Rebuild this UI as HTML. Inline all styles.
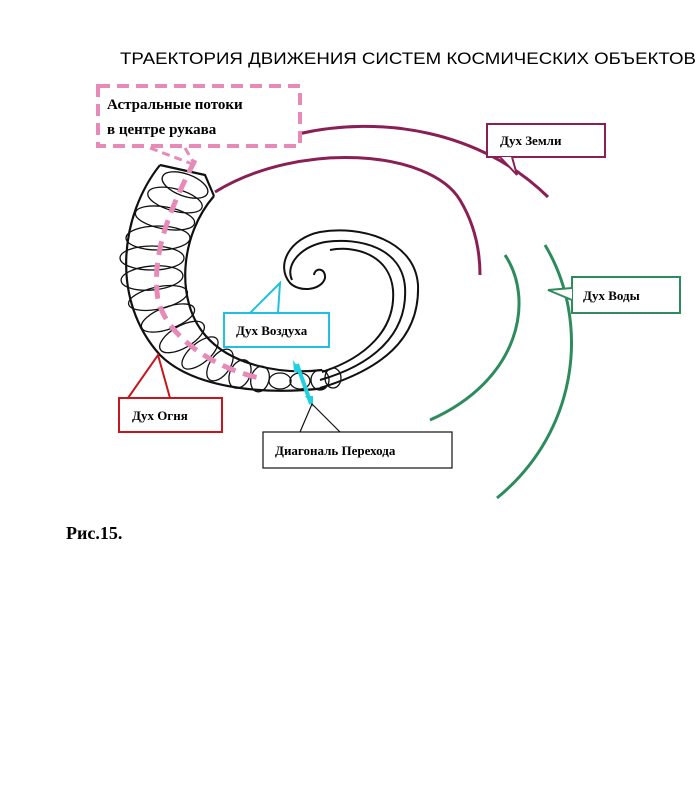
<!DOCTYPE html>
<html><head><meta charset="utf-8"><style>
body{margin:0;background:#fff;width:698px;height:806px;overflow:hidden}
svg{display:block}
.t{font-family:"Liberation Serif","Noto Serif CJK SC",serif;font-weight:bold}
</style></head><body>
<svg width="698" height="806" viewBox="0 0 698 806" xmlns="http://www.w3.org/2000/svg">
<text x="120" y="64" font-family="Liberation Sans, sans-serif" font-size="17" textLength="576" lengthAdjust="spacingAndGlyphs">ТРАЕКТОРИЯ ДВИЖЕНИЯ СИСТЕМ КОСМИЧЕСКИХ ОБЪЕКТОВ</text>

<!-- earth arcs -->
<g fill="none" stroke="#8a1f55" stroke-width="3">
<path d="M298 134 C380 115 480 130 548 197"/>
<path d="M215 192 C300 140 430 150 460 200 C475 225 480 250 480 275"/>
</g>
<!-- water arcs -->
<g fill="none" stroke="#2e8b5e" stroke-width="3">
<path d="M505 255 C535 300 520 380 430 420"/>
<path d="M545 245 C590 320 580 430 497 498"/>
</g>

<!-- inner spiral lines -->
<g fill="none" stroke="#111" stroke-width="2">
<path d="M320 388 C380 370 420 340 418 285 C415 240 360 225 320 232 C290 238 275 265 290 283 C300 293 322 290 325 278 C326 268 315 267 314 275"/>
<path d="M320 380 C372 365 408 335 405 287 C402 248 360 237 325 242 C300 247 285 265 292 280"/>
<path d="M322 372 C365 358 396 330 393 290 C390 255 355 245 330 250"/>
</g>

<!-- tube -->
<g fill="none" stroke="#111" stroke-width="2.2">
<path d="M160 165 C120 215 110 300 160 355 C195 390 270 395 325 388"/>
<path d="M214 196 C180 235 175 300 205 335 C230 365 280 375 322 370"/>
<path d="M160 165 L205 175 L214 196"/>
</g>
<g fill="none" stroke="#111" stroke-width="1.3">
<ellipse cx="185" cy="185" rx="24" ry="11" transform="rotate(20 185 185)"/>
<ellipse cx="175" cy="200" rx="28" ry="11" transform="rotate(15 175 200)"/>
<ellipse cx="165" cy="218" rx="30" ry="11" transform="rotate(10 165 218)"/>
<ellipse cx="158" cy="238" rx="32" ry="12"/>
<ellipse cx="152" cy="258" rx="32" ry="12"/>
<ellipse cx="152" cy="278" rx="31" ry="12" transform="rotate(-5 152 278)"/>
<ellipse cx="158" cy="298" rx="30" ry="11" transform="rotate(-12 158 298)"/>
<ellipse cx="168" cy="318" rx="28" ry="11" transform="rotate(-20 168 318)"/>
<ellipse cx="182" cy="337" rx="25" ry="11" transform="rotate(-30 182 337)"/>
<ellipse cx="200" cy="353" rx="22" ry="10" transform="rotate(-40 200 353)"/>
<ellipse cx="220" cy="365" rx="18" ry="10" transform="rotate(-55 220 365)"/>
<ellipse cx="240" cy="374" rx="15" ry="10" transform="rotate(-65 240 374)"/>
<ellipse cx="260" cy="379" rx="13" ry="9" transform="rotate(-75 260 379)"/>
<ellipse cx="280" cy="381" rx="11" ry="8"/>
<ellipse cx="300" cy="381" rx="10" ry="8"/>
<ellipse cx="320" cy="380" rx="9" ry="10"/>
<ellipse cx="333" cy="378" rx="8" ry="10"/>
</g>
<!-- astral dashed line -->
<path d="M195 160 C175 200 150 250 158 300 C168 340 220 370 260 378" fill="none" stroke="#e88ab8" stroke-width="5" stroke-dasharray="14 8"/>

<!-- astral box -->
<rect x="98" y="86" width="202" height="60" fill="#fff" stroke="#e88ab8" stroke-width="4" stroke-dasharray="12 7"/>
<path d="M150 148 L195 165 M185 148 L195 165" stroke="#e88ab8" stroke-width="3" stroke-dasharray="8 5" fill="none"/>
<text class="t" x="107" y="109" font-size="15">Астральные потоки</text>
<text class="t" x="107" y="134" font-size="15">в центре рукава</text>

<!-- earth box -->
<rect x="487" y="124" width="118" height="33" fill="#fff" stroke="#8a1f55" stroke-width="2"/>
<path d="M500 157 L517 175 L512 157" fill="#fff" stroke="#8a1f55" stroke-width="2"/>
<text class="t" x="500" y="145" font-size="13">Дух Земли</text>

<!-- water box -->
<rect x="572" y="277" width="108" height="36" fill="#fff" stroke="#2e8b5e" stroke-width="2"/>
<path d="M572 288 L548 290 L572 300" fill="#fff" stroke="#2e8b5e" stroke-width="2"/>
<text class="t" x="583" y="300" font-size="13">Дух Воды</text>

<!-- air box -->
<path d="M250 313 L280 283 L278 313" fill="none" stroke="#20c0e0" stroke-width="2"/>
<rect x="224" y="313" width="105" height="34" fill="#fff" stroke="#20c0e0" stroke-width="2"/>
<text class="t" x="236" y="335" font-size="13">Дух Воздуха</text>

<!-- diagonal arrow -->
<path d="M297 364 L311 404" stroke="#20d0e0" stroke-width="4"/>
<path d="M293 360 L301 372 L294 372Z M313 407 L305 396 L313 396Z" fill="#20d0e0"/>

<!-- fire box -->
<path d="M128 398 L158 355 L170 398" fill="none" stroke="#c8161d" stroke-width="2"/>
<rect x="119" y="398" width="103" height="34" fill="#fff" stroke="#c8161d" stroke-width="2"/>
<text class="t" x="132" y="420" font-size="13">Дух Огня</text>

<!-- transition box -->
<path d="M300 432 L312 404 L340 432" fill="none" stroke="#111" stroke-width="1.2"/>
<rect x="263" y="432" width="189" height="36" fill="#fff" stroke="#111" stroke-width="1.2"/>
<text class="t" x="275" y="455" font-size="13">Диагональ Перехода</text>

<text class="t" x="66" y="539" font-size="18">Рис.15.</text>
</svg>
</body></html>
